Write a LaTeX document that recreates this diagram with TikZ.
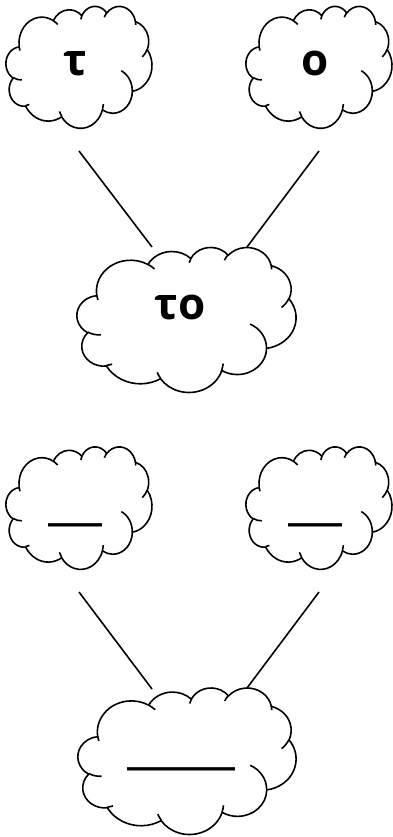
\documentclass[tikz,border=0pt]{standalone}
\usepackage{fontspec}
\setmainfont{Open Sans}
\newfontfamily\blankfont{DejaVu Sans}
% elliptical arc in OOXML style: geometric start angle and sweep (degrees)
\newcommand\carc[4]{arc[x radius=#1, y radius=#2,
  start angle={atan2((#1)*sin(#3),(#2)*cos(#3))},
  delta angle={mod(atan2((#1)*sin((#3)+(#4)),(#2)*cos((#3)+(#4)))-atan2((#1)*sin(#3),(#2)*cos(#3))+720,360)}]}
% cloud shape in a box: x0 y0 w h
\newcommand\officecloud[4]{%
  \begin{scope}[shift={(#1,#2)}, x={#3pt/4320}, y={-#4pt/4320}]
    \draw[cloudline, fill=white] (390,1437)
      \carc{675.3}{919.0}{-190.48748}{123.78053}
      \carc{533.3}{726.7}{-144.10238}{89.94523}
      \carc{436.5}{594.5}{-145.80792}{99.72302}
      \carc{485.7}{659.5}{-130.98607}{117.24173}
      \carc{533.3}{727.3}{-78.70888}{109.02692}
      \carc{677.5}{922.0}{-46.26725}{130.269}
      \carc{578.5}{786.7}{0.62502}{114.03333}
      \carc{675.2}{921.5}{22.4516}{115.17255}
      \carc{772.0}{1054.3}{66.24263}{75.71102}
      \carc{436.0}{591.8}{-274.94208}{146.73557}
      \carc{434.5}{594.5}{-246.8285}{152.51885}
      -- cycle;
    \draw[cloudline]
      (469.3,2617.7) \carc{434.5}{594.5}{86.742}{26.4295}
      (692.8,3489.9) \carc{436.0}{591.8}{73.61047}{11.44747}
      (1647.8,3909.0) \carc{675.2}{921.5}{137.62415}{14.0811}
      (2882.7,3475.1) \carc{675.2}{921.5}{6.45327}{15.99835}
      (3412.9,2295.4) \carc{578.5}{786.7}{-70.29235}{70.91737}
      (4179.8,1535.4) \carc{533.3}{727.3}{30.31803}{27.7515}
      (3832.4,542.6) \carc{485.7}{659.5}{-13.74433}{14.8589}
      (2907.8,395.2) \carc{485.7}{659.5}{-149.18145}{18.19537}
      (2214.1,472.0) \carc{436.5}{594.5}{-163.49427}{17.68635}
      (1400.0,519.2) \carc{675.3}{919.0}{-66.70695}{12.31935}
      (412.7,1578.9) \carc{675.3}{919.0}{157.65435}{11.85817};
  \end{scope}}
\tikzset{
  cloudline/.style={line width=1.6pt, line join=round},
  conn/.style={line width=1.6pt},
  lbl/.style={inner sep=0pt, anchor=base, font=\fontsize{44}{48}\selectfont\bfseries},
  blank/.style={inner sep=0pt, anchor=base, font=\blankfont\fontsize{36}{40}\selectfont\bfseries}
}
\begin{document}
\begin{tikzpicture}[x=1pt, y=-1pt]
  \useasboundingbox (0,0) rectangle (392,837);
  % clouds
  \officecloud{6}{6}{146}{122}
  \officecloud{246}{6}{146}{122}
  \officecloud{77}{247}{219}{145}
  \officecloud{6}{446.5}{146}{122.5}
  \officecloud{246}{446.5}{146}{122.5}
  \officecloud{78}{687.5}{218}{146.5}
  % labels
  \node[lbl] (tau) at (75,76) {τ};
  \node[lbl] (omi) at (315.5,76) {ο};
  \node[lbl] (to) at (180,319) {το};
  \node[blank] (b1) at (75,518) {\_\_\_};
  \node[blank] (b2) at (315,518) {\_\_\_};
  \node[blank] (b3) at (181,762) {\_\_\_\_\_\_};
  % connector ends
  \coordinate (tauS) at (79,151);
  \coordinate (omiS) at (319,151);
  \coordinate (toNW) at (152,247);
  \coordinate (toNE) at (247,247);
  \coordinate (b1S) at (79,592);
  \coordinate (b2S) at (319,592);
  \coordinate (b3NW) at (152,689);
  \coordinate (b3NE) at (247,688);
  \draw[conn] (tauS) -- (toNW);
  \draw[conn] (omiS) -- (toNE);
  \draw[conn] (b1S) -- (b3NW);
  \draw[conn] (b2S) -- (b3NE);
\end{tikzpicture}
\end{document}
